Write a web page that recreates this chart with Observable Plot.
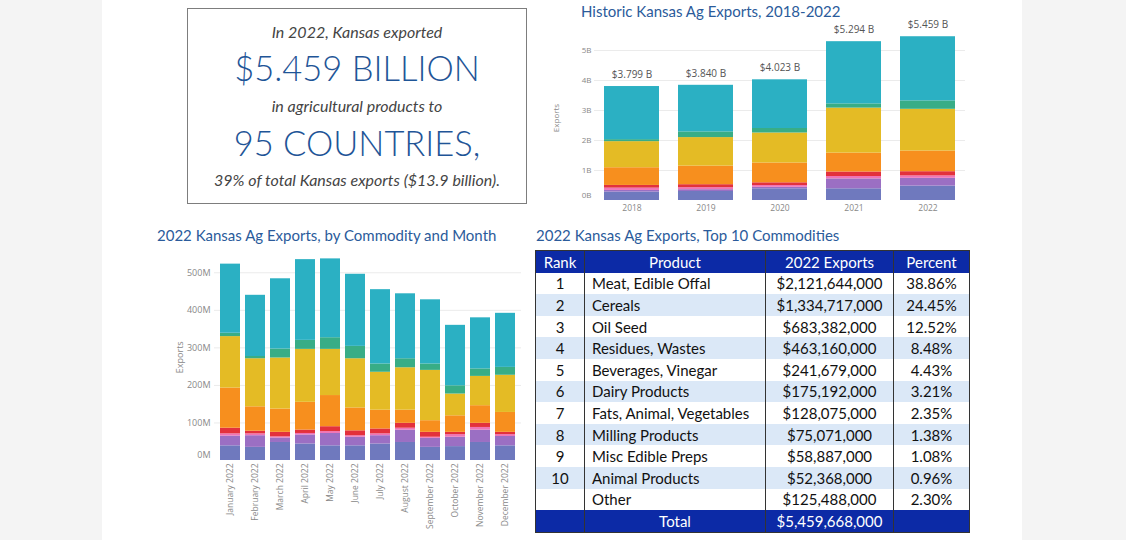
<!DOCTYPE html>
<html>
<head>
<meta charset="utf-8">
<script src="https://cdn.jsdelivr.net/npm/d3@7"></script>
<script src="https://cdn.jsdelivr.net/npm/@observablehq/plot@0.6"></script>
<style>
  html, body { margin: 0; padding: 0; }
  body { width: 1126px; height: 540px; background: #f4f4f4; position: relative; overflow: hidden; font-family: Lato, "Open Sans", sans-serif; }
  #panel { position: absolute; left: 102px; top: 0; width: 920px; height: 540px; background: #fff; }
  .abs { position: absolute; }
  .title { color: #2b5b9b; font-size: 15px; white-space: nowrap; }
  #box { left: 187px; top: 8px; width: 338px; height: 194px; border: 1.5px solid #7d7d7d; background: #fff; }
  #box div { position: absolute; left: 0; width: 100%; text-align: center; white-space: nowrap; }
  .it { font-style: italic; color: #444; font-size: 16px; }
  .big { color: #1f5597; font-size: 34.5px; font-weight: 300; }
  table { border-collapse: collapse; table-layout: fixed; font-size: 15px; color: #111; }
  #tbl { left: 535px; top: 250px; }
  #tbl table { border: 1.5px solid #333; }
  #tbl td { padding: 0; height: 21.6px; line-height: 20px; border-left: 1px solid #333; border-right: 1px solid #333; white-space: nowrap; }
  #tbl tr.head td, #tbl tr.total td { background: #0c2aa6; color: #fff; }
  #tbl tr.alt td { background: #dbe8f7; }
  .c { text-align: center; }
  .l { text-align: left; padding-left: 7px !important; }
</style>
</head>
<body>
<div id="panel"></div>

<div id="box" class="abs"></div>
<div class="abs title" style="left:581px; top:2px;">Historic Kansas Ag Exports, 2018-2022</div>
<div class="abs title" style="left:157px; top:226px;">2022 Kansas Ag Exports, by Commodity and Month</div>
<div class="abs title" style="left:536px; top:226px;">2022 Kansas Ag Exports, Top 10 Commodities</div>
<div id="hist" class="abs" style="left:540px; top:5px;"></div>
<div id="month" class="abs" style="left:150px; top:245px;"></div>
<div id="tbl" class="abs"></div>

<script>
// ---------- Data ----------
const summaryLines = [
  "In 2022, Kansas exported",
  "$5.459 BILLION",
  "in agricultural products to",
  "95 COUNTRIES,",
  "39% of total Kansas exports ($13.9 billion)."
];

const commodities = ["Residues, Wastes","Dairy Products","Milling Products","Fats, Animal, Vegetables","Oil Seed","Cereals","Beverages, Vinegar","Meat, Edible Offal"];
const commodityColors = ["#6f79be","#9b6fc3","#ef74b6","#e3313c","#f78f1e","#e4bb25","#38ad86","#2bb0c3"];

// Historic (billions of dollars)
const years = ["2018","2019","2020","2021","2022"];
const yearTotals = [3.799, 3.840, 4.023, 5.294, 5.459];
const histResidues  = [0.280, 0.300, 0.390, 0.390, 0.480];
const histDairy     = [0.055, 0.060, 0.050, 0.330, 0.260];
const histMilling   = [0.077, 0.067, 0.060, 0.080, 0.080];
const histFats      = [0.090, 0.100, 0.090, 0.150, 0.140];
const histOilSeed   = [0.590, 0.620, 0.660, 0.630, 0.690];
const histCereals   = [0.870, 0.950, 1.000, 1.500, 1.390];
const histBeverages = [0.067, 0.190, 0.150, 0.140, 0.280];
const histMeat      = [1.770, 1.553, 1.623, 2.074, 2.139];

// Monthly 2022 (millions of dollars)
const months = ["January 2022","February 2022","March 2022","April 2022","May 2022","June 2022","July 2022","August 2022","September 2022","October 2022","November 2022","December 2022"];
const monResidues  = [39, 35, 48, 44, 39, 39, 44, 48, 35, 37, 48, 39];
const monDairy     = [26, 31, 12, 24, 33, 23, 22, 33, 24, 25, 33, 25];
const monMilling   = [ 6,  5,  3,  4,  5,  4,  5,  5,  3,  7,  7,  5];
const monFats      = [15,  7, 12,  9, 13, 13, 13, 13, 13,  6, 11,  6];
const monOilSeed   = [107, 65, 62, 74, 83, 61, 50, 35, 31, 44, 47, 53];
const monCereals   = [137,128,136,141,123,131,101,113,134, 58, 78, 99];
const monBeverages = [ 9,  6, 24, 24, 31, 33, 22, 24, 17, 22, 20, 21];
const monMeat      = [184,163,187,215,210,192,198,173,171,161,136,144];

// Table
const tableHeader = ["Rank","Product","2022 Exports","Percent"];
const ranks = ["1","2","3","4","5","6","7","8","9","10",""];
const products = ["Meat, Edible Offal","Cereals","Oil Seed","Residues, Wastes","Beverages, Vinegar","Dairy Products","Fats, Animal, Vegetables","Milling Products","Misc Edible Preps","Animal Products","Other"];
const exportsText = ["$2,121,644,000","$1,334,717,000","$683,382,000","$463,160,000","$241,679,000","$175,192,000","$128,075,000","$75,071,000","$58,887,000","$52,368,000","$125,488,000"];
const percents = ["38.86%","24.45%","12.52%","8.48%","4.43%","3.21%","2.35%","1.38%","1.08%","0.96%","2.30%"];
const totalLabel = "Total";
const totalText = "$5,459,668,000";

// ---------- Summary box ----------
const box = document.getElementById("box");
const lineTops = [13, 38, 87, 113, 161];
summaryLines.forEach((t, i) => {
  const d = document.createElement("div");
  d.className = (i % 2 === 1) ? "big" : "it";
  d.style.top = lineTops[i] + "px";
  d.textContent = t;
  box.appendChild(d);
});

// ---------- Historic chart ----------
const histSeries = [histResidues, histDairy, histMilling, histFats, histOilSeed, histCereals, histBeverages, histMeat];
const histData = [];
years.forEach((y, i) => commodities.forEach((c, k) => histData.push({year: y, commodity: c, value: histSeries[k][i]})));
const histTotals = years.map((y, i) => ({year: y, total: yearTotals[i]}));

const hist = Plot.plot({
  width: 440, height: 210,
  marginLeft: 54, marginRight: 15, marginTop: 30, marginBottom: 15,
  style: {fontFamily: "'Open Sans', sans-serif", background: "transparent"},
  x: {domain: years, paddingInner: 0.257, paddingOuter: 0.135},
  y: {domain: [0, 5.5]},
  color: {domain: commodities, range: commodityColors},
  marks: [
    Plot.gridY([1,2,3,4,5], {stroke: "#ebebeb", strokeOpacity: 1}),
    Plot.barY(histData, {x: "year", y: "value", fill: "commodity", order: commodities}),
    Plot.text(histTotals, {x: "year", y: "total", text: d => "$" + d.total.toFixed(3) + " B", dy: -12, fontSize: 10, fill: "#555"}),
    Plot.axisY({ticks: [1,2,3,4,5], tickFormat: d => d + "B", tickSize: 0, tickPadding: 3, fontSize: 8, color: "#888", label: "Exports", labelAnchor: "center", labelArrow: "none", labelOffset: 41}),
    Plot.axisY({ticks: [0], tickFormat: d => d + "B", tickSize: 0, tickPadding: 3, fontSize: 8, color: "#888", dy: -5, label: null}),
    Plot.axisX({tickSize: 0, tickPadding: 4, fontSize: 8.5, color: "#888", label: null})
  ]
});
document.getElementById("hist").appendChild(hist);

// ---------- Monthly chart ----------
const monSeries = [monResidues, monDairy, monMilling, monFats, monOilSeed, monCereals, monBeverages, monMeat];
const monData = [];
months.forEach((m, i) => commodities.forEach((c, k) => monData.push({month: m, commodity: c, value: monSeries[k][i]})));

const mon = Plot.plot({
  width: 380, height: 295,
  marginLeft: 64, marginRight: 9, marginTop: 8.5, marginBottom: 80,
  style: {fontFamily: "'Open Sans', sans-serif", background: "transparent"},
  x: {domain: months, paddingInner: 0.213, paddingOuter: 0.157},
  y: {domain: [0, 550]},
  color: {domain: commodities, range: commodityColors},
  marks: [
    Plot.gridY([100,200,300,400,500], {stroke: "#ebebeb", strokeOpacity: 1}),
    Plot.barY(monData, {x: "month", y: "value", fill: "commodity", order: commodities}),
    Plot.axisY({ticks: [100,200,300,400,500], tickFormat: d => d + "M", tickSize: 0, tickPadding: 4, fontSize: 9, color: "#888", label: "Exports", labelAnchor: "center", labelArrow: "none", labelOffset: 38}),
    Plot.axisY({ticks: [0], tickFormat: d => d + "M", tickSize: 0, tickPadding: 4, fontSize: 9, color: "#888", dy: -5, label: null}),
    Plot.axisX({tickSize: 0, tickPadding: 3, tickRotate: -90, fontSize: 8.5, color: "#888", label: null})
  ]
});
document.getElementById("month").appendChild(mon);

// ---------- Table ----------
const colWidths = [49, 181, 128, 76];
const tbl = document.createElement("table");
const cg = document.createElement("colgroup");
colWidths.forEach(w => { const c = document.createElement("col"); c.style.width = w + "px"; cg.appendChild(c); });
tbl.appendChild(cg);
function addRow(cells, cls, aligns) {
  const tr = document.createElement("tr");
  if (cls) tr.className = cls;
  cells.forEach((t, i) => {
    const td = document.createElement("td");
    td.className = aligns[i];
    td.textContent = t;
    tr.appendChild(td);
  });
  tbl.appendChild(tr);
}
addRow(tableHeader, "head", ["c","c","c","c"]);
products.forEach((p, i) => addRow([ranks[i], p, exportsText[i], percents[i]], i % 2 === 1 ? "alt" : "", ["c","l","c","c"]));
addRow(["", totalLabel, totalText, ""], "total", ["c","c","c","c"]);
document.getElementById("tbl").appendChild(tbl);
</script>
</body>
</html>
